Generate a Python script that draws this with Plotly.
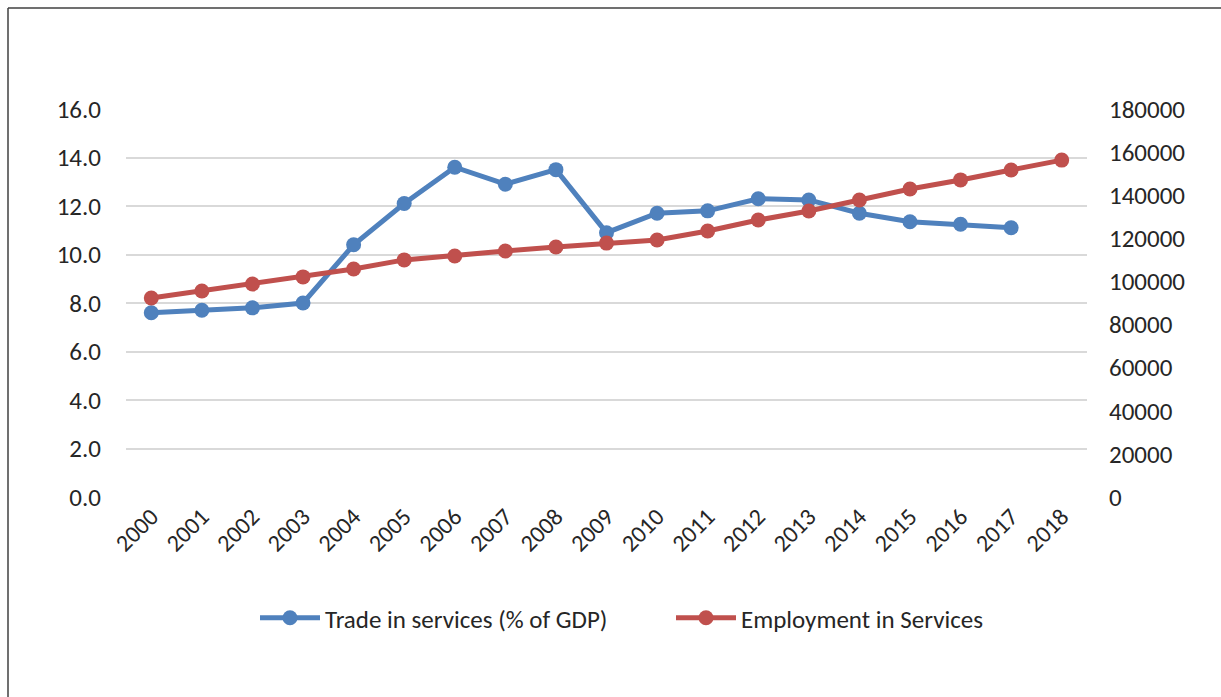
import plotly.graph_objects as go

years = [str(y) for y in range(2000, 2019)]
trade_services = [7.6, 7.7, 7.8, 8.0, 10.4, 12.1, 13.6, 12.9, 13.5, 10.9,
                  11.7, 11.8, 12.3, 12.25, 11.7, 11.35, 11.25, 11.1]
employment_services = [92300, 95600, 98800, 102100, 105800, 110000, 111800, 114100,
                       116000, 117800, 119200, 123400, 128500, 132700, 137800,
                       142900, 147100, 151700, 156300]

left_ticks = [0, 2, 4, 6, 8, 10, 12, 14, 16]
right_ticks = [0, 20000, 40000, 60000, 80000, 100000, 120000, 140000, 160000, 180000]

BLUE = "#4F81BD"
RED = "#C0504D"
FONT = "Calibri, Carlito, Lato, sans-serif"
TXT = "#262626"

fig = go.Figure()
fig.add_trace(go.Scatter(
    x=years[:len(trade_services)], y=trade_services, name="Trade in services (% of GDP)",
    mode="lines+markers", line=dict(color=BLUE, width=5),
    marker=dict(size=15, color=BLUE), yaxis="y"))
fig.add_trace(go.Scatter(
    x=years, y=employment_services, name="Employment in Services",
    mode="lines+markers", line=dict(color=RED, width=5),
    marker=dict(size=15, color=RED), yaxis="y2"))

W, H = 1221, 697
L, R, T, B = 126, 134, 109, 200
pw, ph = W - L - R, H - T - B

def px_x(x):
    return (x - L) / pw

def px_y(y):
    return (H - B - y) / ph

fig.update_layout(
    width=W, height=H,
    margin=dict(l=L, r=R, t=T, b=B),
    paper_bgcolor="white", plot_bgcolor="white",
    font=dict(family=FONT, size=25, color=TXT),
    showlegend=True,
    legend=dict(orientation="h", x=px_x(255), xanchor="left", y=px_y(618), yanchor="middle",
                font=dict(size=25, color=TXT), itemwidth=60, entrywidth=341,
                traceorder="normal"),
    xaxis=dict(type="category", categoryorder="array", categoryarray=years,
               range=[-0.5, len(years) - 0.5],
               tickangle=-45, showgrid=False, showline=False, zeroline=False,
               tickfont=dict(size=24, color=TXT), ticks=""),
    yaxis=dict(range=[0, 16], tickvals=left_ticks, tickformat=".1f",
               showgrid=True, gridcolor="#D9D9D9", gridwidth=1.5, zeroline=False,
               showline=False, tickfont=dict(size=25, color=TXT), ticklabelstandoff=24),
    yaxis2=dict(range=[0, 180000], tickvals=right_ticks, tickformat="d",
                overlaying="y", side="right", showgrid=False, zeroline=False,
                showline=False, tickfont=dict(size=25, color=TXT), ticklabelstandoff=21),
    shapes=[
        dict(type="line", xref="paper", yref="paper",
             x0=px_x(8), x1=px_x(W + 20), y0=px_y(8), y1=px_y(8),
             line=dict(color="#404040", width=1.5)),
        dict(type="line", xref="paper", yref="paper",
             x0=px_x(8), x1=px_x(8), y0=px_y(8), y1=px_y(H + 20),
             line=dict(color="#404040", width=1.5)),
    ],
)

fig.write_html("out.html")
